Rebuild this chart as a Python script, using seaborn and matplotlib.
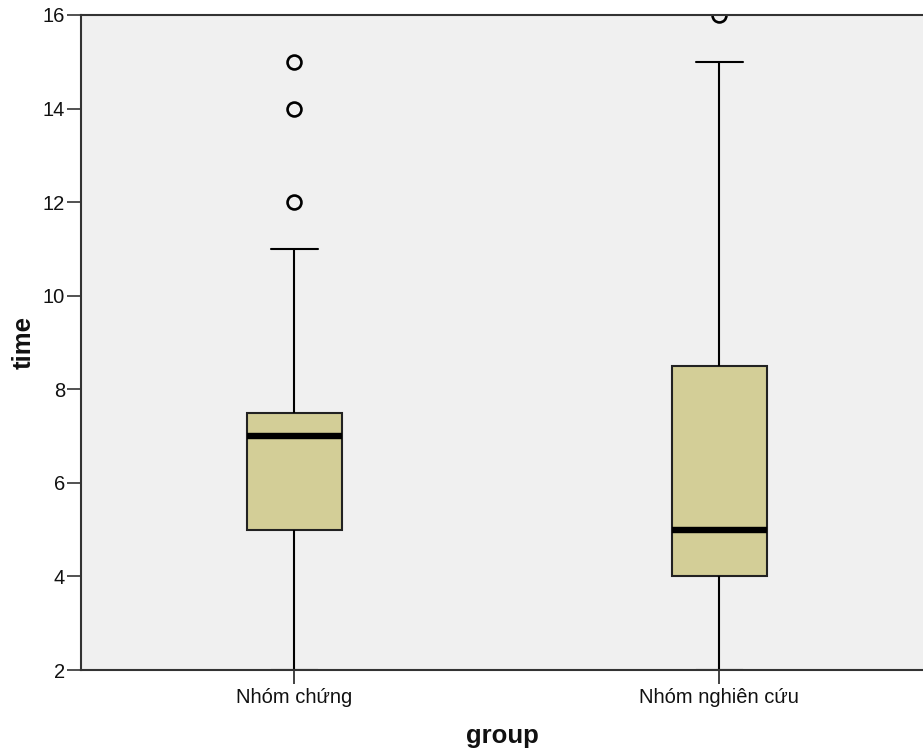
import matplotlib
matplotlib.use("Agg")
import matplotlib.pyplot as plt
import pandas as pd
import seaborn as sns

# Observations per group (recovery time)
groups = ["Nhóm chứng", "Nhóm nghiên cứu"]
time_control = [2, 3, 4, 4, 5, 5, 6, 6, 7, 7, 7, 7, 7, 7, 7, 7.5, 9, 11, 12, 14, 15]
time_study = [2, 3, 3, 4, 4, 4, 4, 5, 5, 5, 5, 6, 7, 8, 8, 8.5, 10, 12, 13, 15, 16]
y_ticks = [2, 4, 6, 8, 10, 12, 14, 16]

df = pd.DataFrame({
    "group": [groups[0]] * len(time_control) + [groups[1]] * len(time_study),
    "time": time_control + time_study,
})

sns.set_theme(style="white")
plt.rcParams["font.family"] = ["Liberation Sans", "DejaVu Sans"]

W, H = 923, 751
fig = plt.figure(figsize=(W / 100, H / 100), dpi=100)
left_px, right_px, top_px, bottom_px = 81, 923, 15, 670
ax = fig.add_axes([left_px / W, 1 - bottom_px / H,
                   (right_px - left_px) / W, (bottom_px - top_px) / H])
ax.set_facecolor("#F0F0F0")

box_color = "#D3CE97"
line_kw = dict(color="black", linewidth=1.5)
sns.boxplot(
    data=df, x="group", y="time", order=groups, ax=ax,
    color=box_color, saturation=1, width=0.2235,
    linecolor="black", linewidth=1.5,
    boxprops=dict(edgecolor="#222222", linewidth=1.5),
    medianprops=dict(color="black", linewidth=4.6, solid_capstyle="butt"),
    whiskerprops=line_kw, capprops=line_kw,
    flierprops=dict(marker="o", markerfacecolor="none", markeredgecolor="black",
                    markersize=10, markeredgewidth=1.9),
)

ax.set_xlim(-0.502, 1.479)
ax.set_ylim(2, 16)
ax.set_yticks(y_ticks)
ax.set_yticklabels([str(v) for v in y_ticks])

for side in ["left", "bottom", "top"]:
    ax.spines[side].set_visible(True)
    ax.spines[side].set_color("#333333")
    ax.spines[side].set_linewidth(1.5)
ax.spines["right"].set_visible(False)

ax.tick_params(axis="y", left=True, length=10, width=1.2, pad=1.5,
               color="#333333", labelsize=14.5, labelcolor="#111111")
ax.tick_params(axis="x", bottom=True, length=10, width=1.2, pad=3,
               color="#222222", labelsize=14.5, labelcolor="#111111")

ax.set_xlabel("group", fontsize=18.5, fontweight="bold", color="#111111")
ax.set_ylabel("time", fontsize=18.5, fontweight="bold", color="#111111")
ax.xaxis.label.set_va("center")
ax.yaxis.label.set_va("center")
ax.xaxis.set_label_coords(0.5, -(736 - bottom_px) / (bottom_px - top_px))
ax.yaxis.set_label_coords(-(81 - 24) / (right_px - left_px), 0.5)

fig.savefig("out.png", dpi=100)
